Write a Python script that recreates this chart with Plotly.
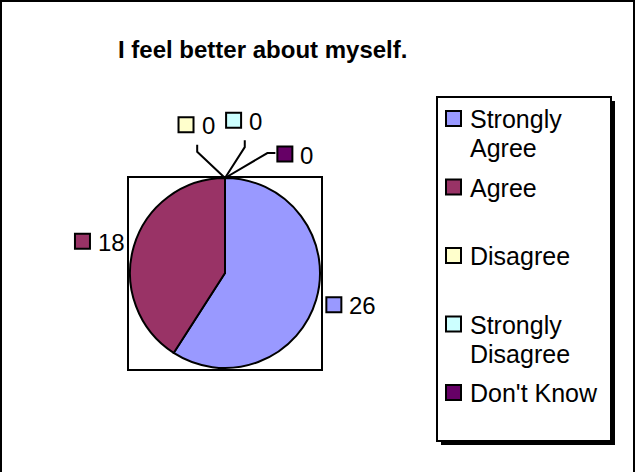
import math
import plotly.graph_objects as go

# ---------------- data ----------------
categories = ["Strongly Agree", "Agree", "Disagree", "Strongly Disagree", "Don't Know"]
values = [26, 18, 0, 0, 0]
colors = ["#9999FF", "#993366", "#FFFFCC", "#CCFFFF", "#660066"]
legend_lines = [["Strongly", "Agree"], ["Agree"], ["Disagree"], ["Strongly", "Disagree"], ["Don't Know"]]
title_text = "I feel better about myself."

# ---------------- layout helpers (pixels -> paper) ----------------
W, H = 636, 472
FONT = "Arial, 'Liberation Sans', sans-serif"
FS = 24
LEG_FS = 25


def fx(px):
    return px / W


def fy(py):
    return 1 - py / H


cx, cy, R = 225, 273, 95          # pie centre / radius in pixels
label_rx, label_ry = 131, 113      # distance of non-zero value labels
# placement of labels of zero-size slices (angle deg, radius px)
zero_label_pos = [(-11, 151), (7, 154), (30.5, 138)]

fig = go.Figure(go.Pie(
    labels=categories, values=values,
    marker=dict(colors=colors, line=dict(color="black", width=2)),
    sort=False, direction="clockwise", rotation=0,
    textinfo="none", hoverinfo="label+value", showlegend=False,
    domain=dict(x=[fx(cx - R), fx(cx + R)], y=[fy(cy + R), fy(cy - R)]),
))

shapes = []
annotations = []


def rect(x0, y0, x1, y1, fill=None, lw=2, layer="above"):
    shapes.append(dict(type="rect", xref="paper", yref="paper",
                       x0=fx(x0), x1=fx(x1), y0=fy(y1), y1=fy(y0),
                       line=dict(color="black", width=lw),
                       fillcolor=fill if fill else "rgba(0,0,0,0)", layer=layer))


def text(x, y, s, size=FS, xanchor="left", bold=False):
    annotations.append(dict(xref="paper", yref="paper", x=fx(x), y=fy(y),
                            text=("<b>%s</b>" % s) if bold else s, showarrow=False,
                            xanchor=xanchor, yanchor="middle",
                            font=dict(family=FONT, size=size, color="black")))


# outer chart frame (bottom edge lies outside the picture)
rect(1, 1, 634, 480, lw=2)
# plot-area box around the pie
rect(128, 177, 322, 370, lw=2, layer="below")

# title
text(262, 50, title_text, size=24, xanchor="center", bold=True)

# ---------------- value labels ----------------
total = sum(values)
cum = 0
zi = 0
SQ = 15
for cat, v, col in zip(categories, values, colors):
    mid = (cum + v / 2) / total * 360
    cum += v
    s = str(v)
    tw = 0.556 * FS * len(s)
    bw = SQ + 7 + tw
    if v > 0:
        a = math.radians(mid)
        lx = cx + label_rx * math.sin(a)
        ly = cy - label_ry * math.cos(a)
    else:
        ang, rr = zero_label_pos[zi]
        zi += 1
        a = math.radians(ang)
        lx = cx + rr * math.sin(a)
        ly = cy - rr * math.cos(a)
        # leader line from slice edge to label
        ea = math.radians(mid)
        ex, ey = cx + R * math.sin(ea), cy - R * math.cos(ea)
        if abs(ang) < 20:
            pts = [(ex, ey), (lx + 1, ly + 27), (lx + 1, ly + 20)]
        else:
            pts = [(ex, ey), (lx - bw / 2 - 10, ly - 1), (lx - bw / 2 - 2, ly - 1)]
        path = "M " + " L ".join("%f,%f" % (fx(px), fy(py)) for px, py in pts)
        shapes.append(dict(type="path", xref="paper", yref="paper", path=path,
                           line=dict(color="black", width=2)))
    left = lx - bw / 2
    rect(left, ly - SQ / 2, left + SQ, ly + SQ / 2, fill=col, lw=2)
    text(left + SQ + 6, ly + 1, s)

# ---------------- legend ----------------
rect(441, 101, 615, 445, fill="black", lw=0)
rect(437, 97, 611, 441, fill="white", lw=2)
top0, step, line_h = 111, 68.5, 29
for i, (lines, col) in enumerate(zip(legend_lines, colors)):
    ct = top0 + i * step
    rect(446, ct, 461, ct + 15, fill=col, lw=2)
    for j, ln in enumerate(lines):
        text(468, ct + 8 + j * line_h, ln, size=LEG_FS)

fig.update_layout(
    width=W, height=H, margin=dict(l=0, r=0, t=0, b=0),
    paper_bgcolor="white", plot_bgcolor="white",
    shapes=shapes, annotations=annotations, showlegend=False,
)

fig.write_html("out.html", config={"displayModeBar": False, "staticPlot": True},
               post_script="document.body.style.margin='0px';")
